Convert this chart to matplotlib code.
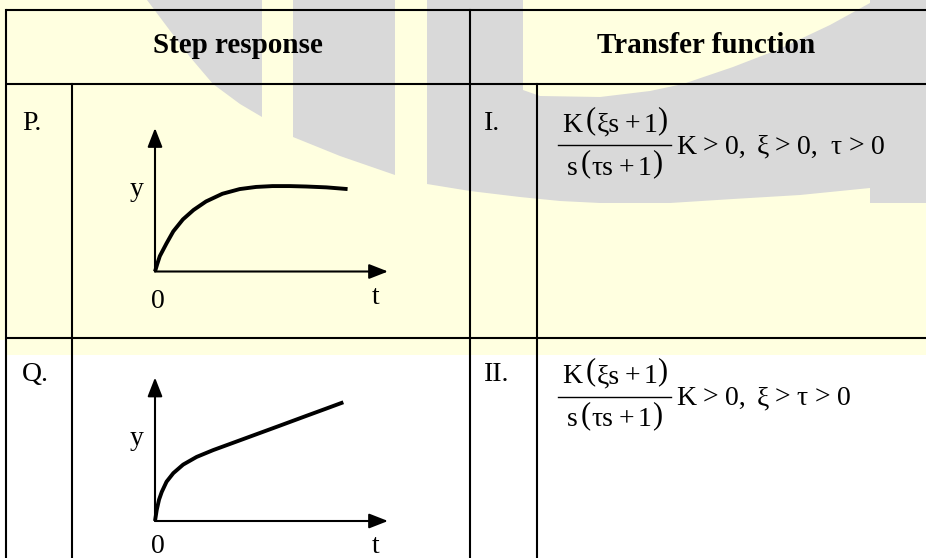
import numpy as np
import matplotlib
matplotlib.use("Agg")
import matplotlib.pyplot as plt
from matplotlib.patches import Polygon, Rectangle

# ---------------- data ----------------
headers = ["Step response", "Transfer function"]
row_labels = ["P.", "Q."]
tf_labels = ["I.", "II."]
# transfer function tokens; "(" / ")" drawn taller
num_tokens = ["K", "(", "ξs", "+", "1", ")"]
den_tokens = ["s", "(", "τs", "+", "1", ")"]
frac_gaps = [3, 1, 5, 3, 0.5, 0]
cond_tokens = [["K", ">", "0,", "ξ", ">", "0,", "τ", ">", "0"],
               ["K", ">", "0,", "ξ", ">", "τ", ">", "0"]]
cond_gaps = [[7, 6, 11, 6, 6.5, 13, 6.5, 7, 0],
             [7, 6, 11, 6, 6.5, 6.5, 7, 0]]
axis_labels = ["y", "0", "t"]

# step response P (y normalised to the plateau)
t_P = [0, 0.12, 0.25, 0.6, 0.95, 1.45, 2.0, 2.65, 3.5, 4.4, 5.25, 6.1, 7.0, 7.85, 8.9, 10.0]
y_P = [0, 0.09, 0.18, 0.33, 0.47, 0.61, 0.72, 0.82, 0.91, 0.965, 0.99, 1.0, 1.0, 0.995, 0.985, 0.965]
# step response Q
t_Q = [0, 0.09, 0.21, 0.35, 0.6, 0.95, 1.46, 2.16, 3.02, 4.05, 5.26, 6.47, 7.85, 8.88, 9.78]
y_Q = [0, 0.13, 0.25, 0.34, 0.46, 0.56, 0.66, 0.75, 0.83, 0.915, 1.015, 1.115, 1.23, 1.315, 1.39]
t_axis_max = 12.1
y_axis_max = 1.68

# ---------------- style ----------------
plt.rcParams["font.family"] = ["Liberation Serif", "DejaVu Serif"]

W, H = 926, 558
DPI = 100
YELLOW = "#FFFFE0"
GRAY = "#D9D9D9"
LW = 1.5
FS_LABEL = 20
FS_MATH = 20
FS_PAREN = 22

fig = plt.figure(figsize=(W / DPI, H / DPI), dpi=DPI)
fig.patch.set_facecolor("white")
ax = fig.add_axes([0, 0, 1, 1])
ax.set_xlim(0, W)
ax.set_ylim(H, 0)
ax.axis("off")
renderer = fig.canvas.get_renderer()

# background
ax.add_patch(Rectangle((0, 0), W, 340, color=YELLOW, zorder=0, lw=0))
ax.add_patch(Rectangle((6, 0), W - 6, 355, color=YELLOW, zorder=0, lw=0))

# watermark decoration
wm_A = [(147, 0), (262, 0), (262, 117), (240, 104), (213, 84), (190, 57), (168, 28)]
wm_B = [(293, 0), (395, 0), (395, 175), (340, 156), (293, 137)]
wm_C = [(427, 0), (523, 0), (523, 90), (540, 96), (600, 97), (650, 91), (683, 84),
        (733, 67), (777, 50), (830, 25), (870, 3), (870, 0), (926, 0), (926, 203),
        (870, 203), (870, 188), (800, 195), (733, 199), (670, 203), (600, 203),
        (560, 201), (520, 197), (470, 191), (427, 184)]
for poly in (wm_A, wm_B, wm_C):
    ax.add_patch(Polygon(poly, closed=True, color=GRAY, lw=0, zorder=1))

# table grid
x_left, x_in1, x_mid, x_in2 = 6, 72, 469.5, 536.5
y_top, y_head, y_row = 10, 84, 338
for yy in (y_top, y_head, y_row):
    ax.plot([x_left, W], [yy, yy], color="black", lw=LW, zorder=5, solid_capstyle="butt")
ax.plot([x_left, x_left], [y_top, H], color="black", lw=LW, zorder=5)
ax.plot([x_mid, x_mid], [y_top, H], color="black", lw=LW, zorder=5)
ax.plot([x_in1, x_in1], [y_head, H], color="black", lw=LW, zorder=5)
ax.plot([x_in2, x_in2], [y_head, H], color="black", lw=LW, zorder=5)

# headers
ax.text(237.5, 53, headers[0], ha="center", va="baseline", fontsize=21,
        fontweight="bold", zorder=6)
ax.text(706, 53, headers[1], ha="center", va="baseline", fontsize=21,
        fontweight="bold", zorder=6)


def place_tokens(x, y, tokens, gaps, align="left"):
    """Lay out tokens left to right, measuring each one."""
    arts = []
    widths = []
    for tok in tokens:
        if tok in ("(", ")"):
            t = ax.text(0, y - 3.5, tok, fontsize=FS_PAREN, ha="left",
                        va="baseline", zorder=6)
        else:
            t = ax.text(0, y, tok, fontsize=FS_MATH, ha="left", va="baseline", zorder=6)
        bb = t.get_window_extent(renderer=renderer)
        arts.append(t)
        widths.append(bb.width)
    total = sum(widths) + sum(gaps[:len(tokens) - 1])
    cur = x - total / 2 if align == "center" else x
    for t, w, g in zip(arts, widths, gaps):
        t.set_x(cur)
        cur += w + g
    return total


row_base = [129.5, 381]
row_off = [0, 251.5]
for i in range(2):
    ax.text(22, row_base[i], row_labels[i], ha="left", va="baseline", fontsize=FS_LABEL, zorder=6)
    ax.text(484, row_base[i], tf_labels[i], ha="left", va="baseline", fontsize=FS_LABEL, zorder=6)
    o = row_off[i]
    place_tokens(615, 131.7 + o, num_tokens, frac_gaps, align="center")
    ax.plot([558, 671], [145 + o, 145 + o], color="black", lw=1.0, zorder=6)
    place_tokens(614.5, 175 + o, den_tokens, frac_gaps, align="center")
    place_tokens(676, 153.5 + o, cond_tokens[i], cond_gaps[i], align="left")

# step response sketches
origins = [(155, 271.5), (155, 521)]
curves = [(t_P, y_P), (t_Q, y_Q)]
ax_w, ax_h = 233, 143.5
for (ox, oy), (tt, yy) in zip(origins, curves):
    sub = fig.add_axes([ox / W, (H - oy) / H, ax_w / W, ax_h / H])
    sub.set_xlim(0, t_axis_max)
    sub.set_ylim(0, y_axis_max)
    sub.axis("off")
    sub.patch.set_alpha(0)
    arrow = dict(arrowstyle="-|>,head_length=1.15,head_width=0.45", color="black",
                 lw=1.5, shrinkA=0, shrinkB=0, mutation_scale=10)
    sub.annotate("", xy=(t_axis_max, 0), xytext=(0, 0), arrowprops=arrow,
                 annotation_clip=False)
    sub.annotate("", xy=(0, y_axis_max), xytext=(0, 0), arrowprops=arrow,
                 annotation_clip=False)
    sub.plot(tt, yy, color="black", lw=2.8, solid_capstyle="butt",
             solid_joinstyle="round", clip_on=False)
    ax.text(144, oy - 76, axis_labels[0], ha="right", va="baseline", fontsize=FS_LABEL, zorder=6)
    ax.text(158, min(oy + 36.5, H - 5), axis_labels[1], ha="center", va="baseline",
            fontsize=FS_LABEL, zorder=6)
    ax.text(376, min(oy + 32, H - 5), axis_labels[2], ha="center", va="baseline",
            fontsize=FS_LABEL, zorder=6)

fig.savefig("out.png", dpi=DPI)
